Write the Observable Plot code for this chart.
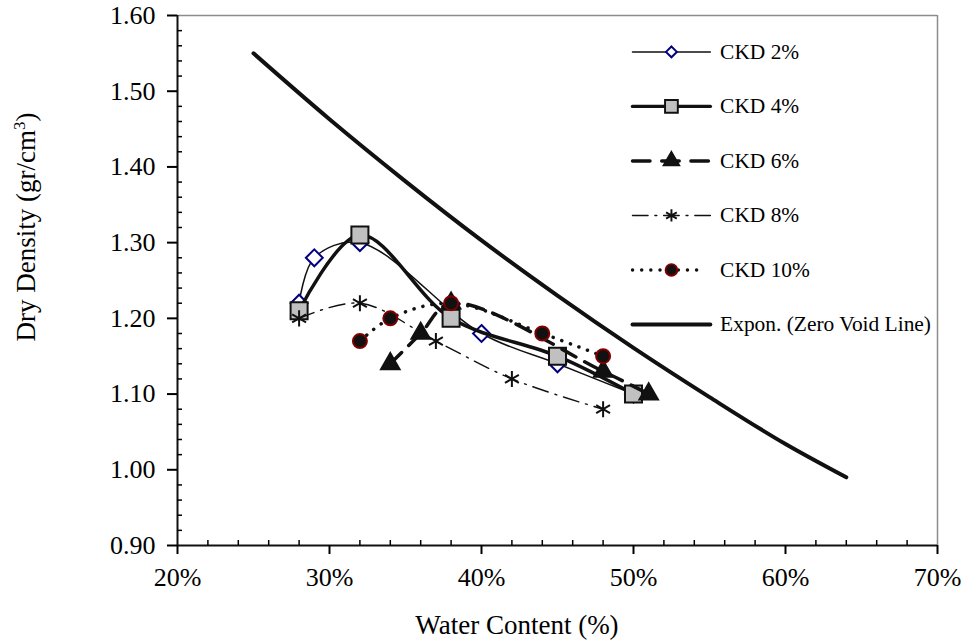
<!DOCTYPE html>
<html>
<head>
<meta charset="utf-8">
<script src="https://cdn.jsdelivr.net/npm/d3@7"></script>
<script src="https://cdn.jsdelivr.net/npm/@observablehq/plot@0.6"></script>
<style>
  html, body { margin: 0; padding: 0; background: #fff; }
  #wrap { position: relative; width: 963px; height: 641px; background: #fff; font-family: "Liberation Serif", "Times New Roman", serif; }
  #chart, #legend { position: absolute; }
  #chart { left: 0; top: 0; }
  #legend { left: 632px; top: 30px; }
  svg { overflow: visible; }
</style>
</head>
<body>
<div id="wrap"><div id="chart"></div><div id="legend"></div></div>
<script>
// ---- Data ----
const wc2 = [28, 29, 32, 40, 45, 50];
const dd2 = [1.22, 1.28, 1.30, 1.18, 1.14, 1.10];

const wc4 = [28, 32, 38, 45, 50];
const dd4 = [1.21, 1.31, 1.20, 1.15, 1.10];

const wc6 = [34, 36, 38, 48, 51];
const dd6 = [1.14, 1.18, 1.22, 1.13, 1.10];

const wc8 = [28, 32, 37, 42, 48];
const dd8 = [1.20, 1.22, 1.17, 1.12, 1.08];

const wc10 = [32, 34, 38, 44, 48];
const dd10 = [1.17, 1.20, 1.22, 1.18, 1.15];

// Zero void line (exponential trendline)
const wcZ = [25, 30, 35, 40, 45, 50, 55, 60, 64];
const ddZ = [1.550, 1.463, 1.381, 1.303, 1.230, 1.161, 1.096, 1.034, 0.990];

const seriesNames = ["CKD 2%", "CKD 4%", "CKD 6%", "CKD 8%", "CKD 10%", "Expon. (Zero Void Line)"];
const xTicks = [20, 30, 40, 50, 60, 70];
const yTicks = [0.90, 1.00, 1.10, 1.20, 1.30, 1.40, 1.50, 1.60];
const xTitle = "Water Content (%)";
const yTitle = "Dry Density (gr/cm";
const yTitleSup = "3";

// ---- Build tables ----
const toRows = (xs, ys) => xs.map((x, i) => ({ x, y: ys[i] }));
const s2 = toRows(wc2, dd2);
const s4 = toRows(wc4, dd4);
const s6 = toRows(wc6, dd6);
const s8 = toRows(wc8, dd8);
const s10 = toRows(wc10, dd10);
const sZ = toRows(wcZ, ddZ);

const xMinor = d3.range(20, 70.001, 2).filter(v => v % 10 !== 0);
const yMinor = d3.range(90, 160.001, 2).filter(v => v % 10 !== 0).map(v => v / 100);

const INK = "#111";
const styles = {
  "CKD 2%": { line: { stroke: INK, strokeWidth: 1.5 }, dot: { symbol: "diamond2", stroke: "#000080", fill: "white", strokeWidth: 2 } },
  "CKD 4%": { line: { stroke: INK, strokeWidth: 3.5 }, dot: { symbol: "square", stroke: INK, fill: "#c0c0c0", strokeWidth: 2 } },
  "CKD 6%": { line: { stroke: INK, strokeWidth: 3.5, strokeDasharray: "16,10" }, dot: { symbol: "triangle", stroke: INK, fill: INK, strokeWidth: 1.5 } },
  "CKD 8%": { line: { stroke: INK, strokeWidth: 1.4, strokeDasharray: "16,7,2,7" }, dot: { symbol: "asterisk", stroke: INK, fill: "none", strokeWidth: 2 } },
  "CKD 10%": { line: { stroke: INK, strokeWidth: 3.5, strokeDasharray: "0.1,9", strokeLinecap: "round" }, dot: { symbol: "circle", stroke: "#800000", fill: INK, strokeWidth: 2 } },
  "Expon. (Zero Void Line)": { line: { stroke: INK, strokeWidth: 4 } }
};
const plotR = { "CKD 2%": 7.6, "CKD 4%": 9.6, "CKD 6%": 7.2, "CKD 8%": 7.6, "CKD 10%": 7 };
const legendR = { "CKD 2%": 5, "CKD 4%": 7.4, "CKD 6%": 6.2, "CKD 8%": 6, "CKD 10%": 6 };

const curve = "catmull-rom";
const seriesData = [["CKD 2%", s2], ["CKD 4%", s4], ["CKD 6%", s6], ["CKD 8%", s8], ["CKD 10%", s10]];

const marks = [
  Plot.ruleY([1.6], { stroke: "#8c8c8c", strokeWidth: 1.5 }),
  Plot.ruleX([70], { stroke: "#8c8c8c", strokeWidth: 1.5 }),
  Plot.ruleX([20], { stroke: INK, strokeWidth: 2 }),
  Plot.ruleY([0.9], { stroke: INK, strokeWidth: 2 }),
  Plot.axisX({ ticks: xTicks, tickSize: 9, tickPadding: 13, strokeWidth: 2, tickFormat: d => d + "%", label: null, fontSize: 26 }),
  Plot.axisX({ ticks: xMinor, tickSize: -5, strokeWidth: 1.5, tickFormat: () => "", label: null }),
  Plot.axisY({ ticks: yTicks, tickSize: 10, tickPadding: 12, strokeWidth: 2, tickFormat: d3.format(".2f"), label: null, fontSize: 26 }),
  Plot.axisY({ ticks: yMinor, tickSize: -5, strokeWidth: 1.5, tickFormat: () => "", label: null })
];
for (const [name, data] of seriesData) {
  marks.push(Plot.line(data, { x: "x", y: "y", curve, ...styles[name].line }));
  marks.push(Plot.dot(data, { x: "x", y: "y", r: plotR[name], ...styles[name].dot }));
}
marks.push(Plot.line(sZ, { x: "x", y: "y", curve: "monotone-x", strokeLinecap: "round", ...styles["Expon. (Zero Void Line)"].line }));

const chart = Plot.plot({
  width: 963,
  height: 641,
  marginLeft: 177,
  marginRight: 26,
  marginTop: 15,
  marginBottom: 96,
  x: { domain: [20, 70] },
  y: { domain: [0.9, 1.6] },
  style: { fontFamily: "'Liberation Serif', 'Times New Roman', serif", fontSize: "26px", color: "black", background: "white", overflow: "visible" },
  marks
});
document.getElementById("chart").appendChild(chart);

// Axis titles as real SVG text
const svg = d3.select(chart);
svg.append("text")
  .attr("x", 517).attr("y", 634)
  .attr("text-anchor", "middle")
  .attr("font-family", "'Liberation Serif', serif")
  .attr("font-size", 27)
  .attr("fill", "black")
  .text(xTitle);
const yt = svg.append("text")
  .attr("transform", "translate(35,227) rotate(-90)")
  .attr("text-anchor", "middle")
  .attr("font-family", "'Liberation Serif', serif")
  .attr("font-size", 27)
  .attr("fill", "black");
yt.append("tspan").text(yTitle);
yt.append("tspan").attr("dy", -10).attr("font-size", 17).text(yTitleSup);
yt.append("tspan").attr("dy", 10).text(")");

// ---- Legend (own small plot) ----
const legendLineRows = seriesNames.flatMap(name => [0, 1].map(t => ({ name, t })));
const legendMarks = [];
for (const name of seriesNames) {
  const st = styles[name];
  const lineStyle = { ...st.line };
  if (name === "CKD 6%") lineStyle.strokeDasharray = "18,12";
  if (name === "CKD 10%") { lineStyle.strokeDasharray = "0.1,9.3"; }
  const rows = legendLineRows.filter(d => d.name === name).map(d => ({ ...d, t: name === "CKD 10%" ? d.t * 0.9 : d.t }));
  legendMarks.push(Plot.line(rows, { x: "t", y: "name", ...lineStyle }));
  if (st.dot) {
    legendMarks.push(Plot.dot([name], { x: 0.5, y: d => d, r: legendR[name], ...st.dot }));
  }
}
legendMarks.push(Plot.text(seriesNames, { x: 1, y: d => d, dx: 10, textAnchor: "start", fontSize: 22, fill: "black" }));

const legend = Plot.plot({
  width: 340,
  height: 330,
  margin: 0,
  x: { domain: [0, 1], range: [0, 80], axis: null },
  y: { type: "point", domain: seriesNames, range: [22, 302], padding: 0, axis: null },
  style: { fontFamily: "'Liberation Serif', 'Times New Roman', serif", fontSize: "22px", color: "black", background: "transparent", overflow: "visible" },
  marks: legendMarks
});
document.getElementById("legend").appendChild(legend);
</script>
</body>
</html>
